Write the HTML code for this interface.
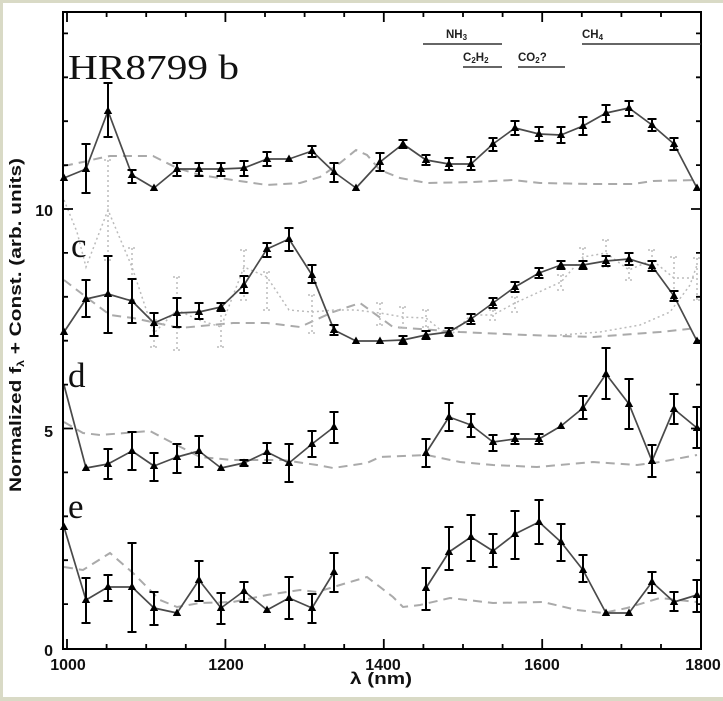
<!DOCTYPE html>
<html><head><meta charset="utf-8"><style>
html,body{margin:0;padding:0;background:#fff;}
svg{display:block;}
</style></head><body>
<svg width="723" height="701" viewBox="0 0 723 701" xmlns="http://www.w3.org/2000/svg">
<defs><path id="t" d="M-4.2,3L4.2,3L0,-4.5Z" fill="#000"/></defs>
<rect x="0" y="0" width="723" height="701" fill="#d9dac6"/>
<rect x="3" y="3" width="720" height="694" fill="#fff"/>

<!-- model dashed lines -->
<g fill="none" stroke="#aaa" stroke-width="2" stroke-dasharray="9,6">
<path d="M64,166 L83,162 L100,158 L110,156 L153,156 L177,168 L200,175 L233,180 L267,185 L300,183 L320,177 L340,163 L356,150 L367,155 L380,170 L400,178 L427,183 L473,182 L513,180 L540,183 L593,184 L633,184 L653,181 L697,180"/>
<path d="M64,280 L90,300 L110,315 L133,318 L180,328 L233,323 L267,323 L300,327 L333,312 L360,303 L393,327 L460,332 L527,335 L593,337 L660,332 L697,328"/>
<path d="M64,422 L83,433 L100,435 L150,431 L167,440 L200,457 L233,460 L283,460 L317,465 L333,468 L367,463 L380,457 L427,455 L460,462 L493,465 L537,467 L593,462 L637,465 L660,462 L697,455"/>
<path d="M64,567 L83,570 L110,553 L133,573 L160,600 L177,607 L200,603 L233,602 L267,595 L300,590 L317,592 L350,582 L367,577 L393,597 L403,607 L420,605 L450,598 L493,603 L543,602 L577,610 L603,613 L627,608 L660,598 L697,602"/>
</g>

<!-- dotted c comparison -->
<g fill="none" stroke="#bbb" stroke-width="1.5" stroke-dasharray="2,3">
<path d="M64,200 L77,232 L86,267 L108,210 L132,267 L154,333 L177,310 L199,320 L221,327 L244,267 L267,277 L289,310 L312,312 L334,310 L356,310 L380,313 L403,317 L426,318 L449,337 L471,315 L493,315 L515,303 L539,292 L561,282 L583,257 L606,253 L629,270 L652,260 L674,278 L697,278"/>
<path d="M560,335 L600,332 L640,325 L670,312 L690,285 L697,265"/>
<path d="M108,160V260M104,160h8M104,260h8M132,248V300M128,248h8M128,300h8M154,320V347M150,320h8M150,347h8M177,277V350M173,277h8M173,350h8M221,310V347M217,310h8M217,347h8M244,250V300M240,250h8M240,300h8M267,272V310M263,272h8M263,310h8M312,295V333M308,295h8M308,333h8M380,303V325M376,303h8M376,325h8M403,307V328M399,307h8M399,328h8M426,310V327M422,310h8M422,327h8M493,310V320M489,310h8M489,320h8M515,297V312M511,297h8M511,312h8M561,275V290M557,275h8M557,290h8M583,248V267M579,248h8M579,267h8M606,240V267M602,240h8M602,267h8M629,262V280M625,262h8M625,280h8M652,250V270M648,250h8M648,270h8M674,257V300M670,257h8M670,300h8M697,258V300M693,258h8M693,300h8"/>
</g>

<!-- data lines -->
<g fill="none" stroke="#4a4a4a" stroke-width="1.7" stroke-linejoin="round">
<path d="M64,178 L86,169 L108,111 L132,175 L154,188 L177,169 L199,169 L221,169 L244,168 L267,159 L289,159 L312,151 L334,172 L356,188 L380,162 L403,144 L426,160 L449,164 L471,164 L493,144 L515,128 L539,134 L561,135 L583,126 L606,113 L629,108 L652,125 L674,144 L697,188"/>
<path d="M64,332 L86,299 L108,294 L132,301 L154,323 L177,313 L199,312 L221,307 L244,285 L267,249 L289,239 L312,275 L334,330 L356,341 L380,341 L403,340 L426,335 L449,332 L471,319 L493,303 L515,287 L539,273 L561,265 L583,265 L606,261 L629,259 L652,266 L674,296 L697,341"/>
<path d="M64,385 L86,468 L108,464 L132,451 L154,466 L177,457 L199,451 L221,468 L244,463 L267,452 L289,463 L312,444 L334,427"/>
<path d="M426,453 L449,417 L471,425 L493,442 L515,439 L539,439 L561,426 L583,408 L606,374 L629,404 L652,461 L674,409 L697,428"/>
<path d="M64,527 L86,600 L108,587 L132,587 L154,608 L177,613 L199,580 L221,608 L244,591 L267,610 L289,598 L312,608 L334,572"/>
<path d="M426,588 L449,552 L471,537 L493,551 L515,534 L539,522 L561,542 L583,570 L606,613 L629,613 L652,582 L674,602 L697,595"/>
</g>

<!-- error bars -->
<g fill="none" stroke="#000" stroke-width="2">
<path d="M86,144V193M81.5,144h9M81.5,193h9M108,83V137M103.5,83h9M103.5,137h9M132,170V183M127.5,170h9M127.5,183h9M177,163V176M172.5,163h9M172.5,176h9M199,163V176M194.5,163h9M194.5,176h9M221,163V176M216.5,163h9M216.5,176h9M244,161V176M239.5,161h9M239.5,176h9M267,152V166M262.5,152h9M262.5,166h9M312,146V157M307.5,146h9M307.5,157h9M334,163V182M329.5,163h9M329.5,182h9M380,153V171M375.5,153h9M375.5,171h9M403,140V148M398.5,140h9M398.5,148h9M426,155V165M421.5,155h9M421.5,165h9M449,158V170M444.5,158h9M444.5,170h9M471,157V170M466.5,157h9M466.5,170h9M493,138V151M488.5,138h9M488.5,151h9M515,121V135M510.5,121h9M510.5,135h9M539,127V141M534.5,127h9M534.5,141h9M561,127V143M556.5,127h9M556.5,143h9M583,117V135M578.5,117h9M578.5,135h9M606,105V122M601.5,105h9M601.5,122h9M629,101V116M624.5,101h9M624.5,116h9M652,119V131M647.5,119h9M647.5,131h9M674,138V150M669.5,138h9M669.5,150h9"/>
<path d="M86,280V317M81.5,280h9M81.5,317h9M108,256V333M103.5,256h9M103.5,333h9M132,279V323M127.5,279h9M127.5,323h9M154,313V336M149.5,313h9M149.5,336h9M177,298V327M172.5,298h9M172.5,327h9M199,303V319M194.5,303h9M194.5,319h9M221,303V311M216.5,303h9M216.5,311h9M244,276V293M239.5,276h9M239.5,293h9M267,243V257M262.5,243h9M262.5,257h9M289,228V251M284.5,228h9M284.5,251h9M312,265V283M307.5,265h9M307.5,283h9M334,325V335M329.5,325h9M329.5,335h9M403,336V344M398.5,336h9M398.5,344h9M426,331V339M421.5,331h9M421.5,339h9M449,328V336M444.5,328h9M444.5,336h9M471,314V324M466.5,314h9M466.5,324h9M493,298V308M488.5,298h9M488.5,308h9M515,282V292M510.5,282h9M510.5,292h9M539,268V278M534.5,268h9M534.5,278h9M561,261V269M556.5,261h9M556.5,269h9M583,261V269M578.5,261h9M578.5,269h9M606,256V266M601.5,256h9M601.5,266h9M629,253V265M624.5,253h9M624.5,265h9M652,261V271M647.5,261h9M647.5,271h9M674,291V301M669.5,291h9M669.5,301h9"/>
<path d="M108,449V479M103.5,449h9M103.5,479h9M132,432V470M127.5,432h9M127.5,470h9M154,453V481M149.5,453h9M149.5,481h9M177,444V473M172.5,444h9M172.5,473h9M199,436V467M194.5,436h9M194.5,467h9M244,460V466M239.5,460h9M239.5,466h9M267,443V463M262.5,443h9M262.5,463h9M289,444V482M284.5,444h9M284.5,482h9M312,431V457M307.5,431h9M307.5,457h9M334,412V443M329.5,412h9M329.5,443h9M426,439V467M421.5,439h9M421.5,467h9M449,403V431M444.5,403h9M444.5,431h9M471,414V437M466.5,414h9M466.5,437h9M493,435V451M488.5,435h9M488.5,451h9M515,434V444M510.5,434h9M510.5,444h9M539,434V444M534.5,434h9M534.5,444h9M583,396V419M578.5,396h9M578.5,419h9M606,348V399M601.5,348h9M601.5,399h9M629,379V429M624.5,379h9M624.5,429h9M652,445V477M647.5,445h9M647.5,477h9M674,394V424M669.5,394h9M669.5,424h9M697,407V448M692.5,407h9M692.5,448h9"/>
<path d="M86,578V623M81.5,578h9M81.5,623h9M108,575V601M103.5,575h9M103.5,601h9M132,543V632M127.5,543h9M127.5,632h9M154,592V625M149.5,592h9M149.5,625h9M199,561V601M194.5,561h9M194.5,601h9M221,593V624M216.5,593h9M216.5,624h9M244,582V602M239.5,582h9M239.5,602h9M289,577V619M284.5,577h9M284.5,619h9M312,594V623M307.5,594h9M307.5,623h9M334,553V592M329.5,553h9M329.5,592h9M426,568V610M421.5,568h9M421.5,610h9M449,527V570M444.5,527h9M444.5,570h9M471,515V561M466.5,515h9M466.5,561h9M493,534V567M488.5,534h9M488.5,567h9M515,511V559M510.5,511h9M510.5,559h9M539,500V544M534.5,500h9M534.5,544h9M561,524V561M556.5,524h9M556.5,561h9M583,555V582M578.5,555h9M578.5,582h9M652,572V593M647.5,572h9M647.5,593h9M674,592V611M669.5,592h9M669.5,611h9M697,580V612M692.5,580h9M692.5,612h9"/>
</g>

<!-- markers -->
<g>
<use href="#t" x="64" y="178"/><use href="#t" x="86" y="169"/><use href="#t" x="108" y="111"/><use href="#t" x="132" y="175"/><use href="#t" x="154" y="188"/><use href="#t" x="177" y="169"/><use href="#t" x="199" y="169"/><use href="#t" x="221" y="169"/><use href="#t" x="244" y="168"/><use href="#t" x="267" y="159"/><use href="#t" x="289" y="159"/><use href="#t" x="312" y="151"/><use href="#t" x="334" y="172"/><use href="#t" x="356" y="188"/><use href="#t" x="380" y="162"/><use href="#t" x="403" y="144"/><use href="#t" x="426" y="160"/><use href="#t" x="449" y="164"/><use href="#t" x="471" y="164"/><use href="#t" x="493" y="144"/><use href="#t" x="515" y="128"/><use href="#t" x="539" y="134"/><use href="#t" x="561" y="135"/><use href="#t" x="583" y="126"/><use href="#t" x="606" y="113"/><use href="#t" x="629" y="108"/><use href="#t" x="652" y="125"/><use href="#t" x="674" y="144"/><use href="#t" x="697" y="188"/>
<use href="#t" x="64" y="332"/><use href="#t" x="86" y="299"/><use href="#t" x="108" y="294"/><use href="#t" x="132" y="301"/><use href="#t" x="154" y="323"/><use href="#t" x="177" y="313"/><use href="#t" x="199" y="312"/><use href="#t" x="221" y="307"/><use href="#t" x="244" y="285"/><use href="#t" x="267" y="249"/><use href="#t" x="289" y="239"/><use href="#t" x="312" y="275"/><use href="#t" x="334" y="330"/><use href="#t" x="356" y="341"/><use href="#t" x="380" y="341"/><use href="#t" x="403" y="340"/><use href="#t" x="426" y="335"/><use href="#t" x="449" y="332"/><use href="#t" x="471" y="319"/><use href="#t" x="493" y="303"/><use href="#t" x="515" y="287"/><use href="#t" x="539" y="273"/><use href="#t" x="561" y="265"/><use href="#t" x="583" y="265"/><use href="#t" x="606" y="261"/><use href="#t" x="629" y="259"/><use href="#t" x="652" y="266"/><use href="#t" x="674" y="296"/><use href="#t" x="697" y="341"/>
<use href="#t" x="86" y="468"/><use href="#t" x="108" y="464"/><use href="#t" x="132" y="451"/><use href="#t" x="154" y="466"/><use href="#t" x="177" y="457"/><use href="#t" x="199" y="451"/><use href="#t" x="221" y="468"/><use href="#t" x="244" y="463"/><use href="#t" x="267" y="452"/><use href="#t" x="289" y="463"/><use href="#t" x="312" y="444"/><use href="#t" x="334" y="427"/><use href="#t" x="426" y="453"/><use href="#t" x="449" y="417"/><use href="#t" x="471" y="425"/><use href="#t" x="493" y="442"/><use href="#t" x="515" y="439"/><use href="#t" x="539" y="439"/><use href="#t" x="561" y="426"/><use href="#t" x="583" y="408"/><use href="#t" x="606" y="374"/><use href="#t" x="629" y="404"/><use href="#t" x="652" y="461"/><use href="#t" x="674" y="409"/><use href="#t" x="697" y="428"/>
<use href="#t" x="64" y="527"/><use href="#t" x="86" y="600"/><use href="#t" x="108" y="587"/><use href="#t" x="132" y="587"/><use href="#t" x="154" y="608"/><use href="#t" x="177" y="613"/><use href="#t" x="199" y="580"/><use href="#t" x="221" y="608"/><use href="#t" x="244" y="591"/><use href="#t" x="267" y="610"/><use href="#t" x="289" y="598"/><use href="#t" x="312" y="608"/><use href="#t" x="334" y="572"/><use href="#t" x="426" y="588"/><use href="#t" x="449" y="552"/><use href="#t" x="471" y="537"/><use href="#t" x="493" y="551"/><use href="#t" x="515" y="534"/><use href="#t" x="539" y="522"/><use href="#t" x="561" y="542"/><use href="#t" x="583" y="570"/><use href="#t" x="606" y="613"/><use href="#t" x="629" y="613"/><use href="#t" x="652" y="582"/><use href="#t" x="674" y="602"/><use href="#t" x="697" y="595"/>
</g>

<!-- axes -->
<rect x="63" y="12" width="638" height="637" fill="none" stroke="#000" stroke-width="2"/>
<g stroke="#000" stroke-width="1.8">
<path d="M67,12v10M106.6,12v5M146.2,12v5M185.8,12v5M225.4,12v10M265,12v5M304.6,12v5M344.2,12v5M383.8,12v10M423.4,12v5M463,12v5M502.6,12v5M542.2,12v10M581.8,12v5M621.4,12v5M661,12v5"/>
<path d="M67,649v-10M106.6,649v-5M146.2,649v-5M185.8,649v-5M225.4,649v-10M265,649v-5M304.6,649v-5M344.2,649v-5M383.8,649v-10M423.4,649v-5M463,649v-5M502.6,649v-5M542.2,649v-10M581.8,649v-5M621.4,649v-5M661,649v-5"/>
<path d="M63,604.1h5M63,560.2h5M63,516.3h5M63,472.4h5M63,428.5h10M63,384.6h5M63,340.7h5M63,296.8h5M63,252.9h5M63,209h10M63,165.1h5M63,121.2h5M63,77.3h5M63,33.4h5"/>
<path d="M701,604.1h-5M701,560.2h-5M701,516.3h-5M701,472.4h-5M701,428.5h-10M701,384.6h-5M701,340.7h-5M701,296.8h-5M701,252.9h-5M701,209h-10M701,165.1h-5M701,121.2h-5M701,77.3h-5M701,33.4h-5"/>
</g>

<!-- molecule annotations -->
<g stroke="#333" stroke-width="1.6">
<path d="M423,44H502M463,67H502M518,67H565M582,44H701"/>
</g>
<g font-family="Liberation Sans, sans-serif" font-weight="bold" font-size="11.5" fill="#222">
<text x="446" y="38">NH<tspan font-size="8" dy="2">3</tspan></text>
<text x="463" y="61">C<tspan font-size="8" dy="2">2</tspan><tspan dy="-2">H</tspan><tspan font-size="8" dy="2">2</tspan></text>
<text x="518" y="61">CO<tspan font-size="8" dy="2">2</tspan><tspan dy="-2">?</tspan></text>
<text x="582" y="38">CH<tspan font-size="8" dy="2">4</tspan></text>
</g>

<!-- panel labels -->
<g font-family="Liberation Serif, serif" font-size="35" fill="#111">
<text x="68" y="79" textLength="171" lengthAdjust="spacingAndGlyphs">HR8799 b</text>
<text x="71" y="257">c</text>
<text x="68" y="387">d</text>
<text x="68" y="518">e</text>
</g>

<!-- tick labels -->
<g font-family="Liberation Sans, sans-serif" font-weight="bold" font-size="16" fill="#111" text-anchor="middle">
<text x="68" y="670">1000</text>
<text x="226" y="670">1200</text>
<text x="383" y="670">1400</text>
<text x="542" y="670">1600</text>
<text x="703" y="670">1800</text>
</g>
<g font-family="Liberation Sans, sans-serif" font-weight="bold" font-size="16" fill="#111" text-anchor="end">
<text x="53" y="656">0</text>
<text x="53" y="437">5</text>
<text x="53" y="216">10</text>
</g>
<text x="350" y="684" font-family="Liberation Sans, sans-serif" font-weight="bold" font-size="17" fill="#111" textLength="62" lengthAdjust="spacingAndGlyphs">λ (nm)</text>
<text transform="translate(21,325) rotate(-90)" text-anchor="middle" font-family="Liberation Sans, sans-serif" font-weight="bold" font-size="17" fill="#111" textLength="334" lengthAdjust="spacingAndGlyphs">Normalized f<tspan font-size="10" dy="3">λ</tspan><tspan dy="-3"> + Const. (arb. units)</tspan></text>
</svg>
</body></html>
